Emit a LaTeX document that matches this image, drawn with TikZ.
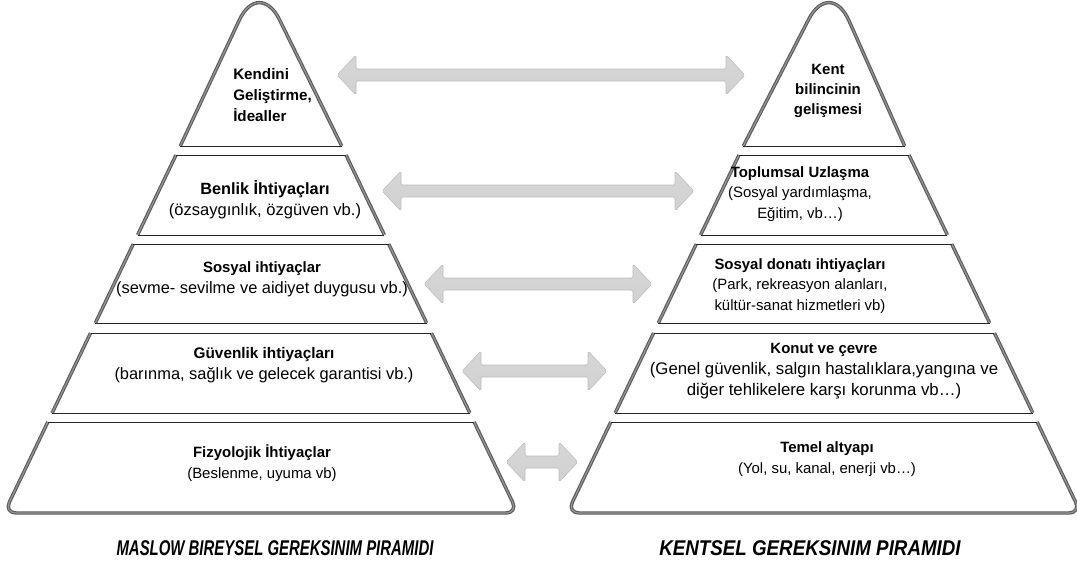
\documentclass[tikz,border=0pt]{standalone}
\usepackage{fontspec}
\setmainfont{Liberation Sans}
\usetikzlibrary{calc}
\newcommand\pyrlevel[3]{%
  \pgfmathsetmacro\pyrhT{85+0.48*(#2-155)}%
  \pgfmathsetmacro\pyrhB{85+0.48*(#3-155)}%
  \draw[sideline] ({#1-\pyrhT},#2) -- ({#1-\pyrhB},#3);
  \draw[sideline] ({#1+\pyrhT},#2) -- ({#1+\pyrhB},#3);
  \draw[edgeline] ({#1-\pyrhT},#2) -- ({#1+\pyrhT},#2);
  \draw[edgeline] ({#1-\pyrhB},#3) -- ({#1+\pyrhB},#3);
}
\newcommand\pyrtop[2]{%
  \filldraw[fill=white, sideline, rounded corners=35pt] ({#1-80.7},146) -- ({#1+#2},-22) -- ({#1+80.7},146);
  \draw[edgeline] ({#1-80.7},146) -- ({#1+80.7},146);
}
\newcommand\pyrbase[1]{%
  \pgfmathsetmacro\pyrhT{85+0.48*(422-155)}%
  \pgfmathsetmacro\pyrhB{85+0.48*(513-155)}%
  \filldraw[fill=white, sideline, rounded corners=9pt] ({#1-\pyrhT},422) -- ({#1-\pyrhB},513) -- ({#1+\pyrhB},513) -- ({#1+\pyrhT},422);
  \draw[edgeline] ({#1-\pyrhT},422) -- ({#1+\pyrhT},422);
}
\newcommand\blockarrowLR[2]{%
  \path[blk] let \p1=(#1), \p2=(#2) in
    (\x1,\y1) -- (\x1+14.25pt,\y1+15pt) -- (\x1+14.25pt,\y1+4.5pt) -- (\x2-14.25pt,\y2+4.5pt)
    -- (\x2-14.25pt,\y2+15pt) -- (\x2,\y2) -- (\x2-14.25pt,\y2-15pt) -- (\x2-14.25pt,\y2-4.5pt)
    -- (\x1+14.25pt,\y1-4.5pt) -- (\x1+14.25pt,\y1-15pt) -- cycle;
}
\newcommand\bsz[2]{{\fontsize{#1}{15}\selectfont\bfseries #2}}
\begin{document}
\begin{tikzpicture}[x=0.75pt, y=-0.75pt,
  sideline/.style={draw=black!64, line width=0.85pt, double=black!42, double distance=0.9pt},
  edgeline/.style={draw=black!85, line width=0.7pt},
  lbl/.style={font=\fontsize{11.2}{15.6}\selectfont, align=center, inner sep=0pt},
  lblb/.style={lbl, font=\fontsize{12.3}{16}\selectfont},
  ttl/.style={font=\fontsize{16}{18}\selectfont\bfseries\itshape, inner sep=0pt},
  blk/.style={draw=black!26, line width=0.4pt, rounded corners=1.2pt, top color=black!16, middle color=black!27, bottom color=black!18}]
\useasboundingbox (0,0) rectangle (1077,562);
% left pyramid
\pyrtop{261}{-2}
\pyrlevel{261}{155}{235}
\pyrlevel{261}{244}{323}
\pyrlevel{261}{333}{413}
\pyrbase{261}
% right pyramid
\pyrtop{824}{6}
\pyrlevel{824}{155}{235}
\pyrlevel{824}{244}{323}
\pyrlevel{824}{333}{413}
\pyrbase{824}
% texts left
\node[lbl, anchor=west, align=left, font=\fontsize{11.4}{15.8}\selectfont\bfseries] (l1) at (233,95) {Kendini\\Geliştirme,\\İdealler};
\node[lbl, font=\fontsize{12.4}{16}\selectfont] (l2) at (265,200) {\bsz{12.2}{Benlik İhtiyaçları}\\(özsaygınlık, özgüven vb.)};
\node[lblb] (l3) at (262,279) {\bsz{11.2}{Sosyal ihtiyaçlar}\\(sevme- sevilme ve aidiyet duygusu vb.)};
\node[lblb] (l4) at (264,365) {\bsz{11.5}{Güvenlik ihtiyaçları}\\(barınma, sağlık ve gelecek garantisi vb.)};
\node[lbl] (l5) at (262,463) {\textbf{Fizyolojik İhtiyaçlar}\\(Beslenme, uyuma vb)};
% texts right
\node[lbl, font=\fontsize{11.2}{14.8}\selectfont\bfseries] (r1) at (828,91) {Kent\\bilincinin\\gelişmesi};
\node[lbl] (r2) at (800,194) {\textbf{Toplumsal Uzlaşma}\\(Sosyal yardımlaşma,\\Eğitim, vb…)};
\node[lbl] (r3) at (800,286) {\textbf{Sosyal donatı ihtiyaçları}\\(Park, rekreasyon alanları,\\kültür-sanat hizmetleri vb)};
\node[lbl, font=\fontsize{12.6}{15.6}\selectfont] (r4) at (824,371) {\bsz{11.2}{Konut ve çevre}\\(Genel güvenlik, salgın hastalıklara,yangına ve\\diğer tehlikelere karşı korunma vb…)};
\node[lbl] (r5) at (827,459) {\textbf{Temel altyapı}\\(Yol, su, kanal, enerji vb…)};
% arrows
\coordinate (a1w) at (337,75);  \coordinate (a1e) at (745,75);
\coordinate (a2w) at (382,191); \coordinate (a2e) at (694,191);
\coordinate (a3w) at (424,284); \coordinate (a3e) at (652,284);
\coordinate (a4w) at (462,371); \coordinate (a4e) at (607,371);
\coordinate (a5w) at (506,462); \coordinate (a5e) at (578,462);
\blockarrowLR{a1w}{a1e}
\blockarrowLR{a2w}{a2e}
\blockarrowLR{a3w}{a3e}
\blockarrowLR{a4w}{a4e}
\blockarrowLR{a5w}{a5e}
% titles
\node[ttl] (tl) at (275,548) {\scalebox{0.7}[1]{MASLOW BIREYSEL GEREKSINIM PIRAMIDI}};
\node[ttl] (tr) at (810,548) {\scalebox{0.88}[1]{KENTSEL GEREKSINIM PIRAMIDI}};
\end{tikzpicture}
\end{document}
